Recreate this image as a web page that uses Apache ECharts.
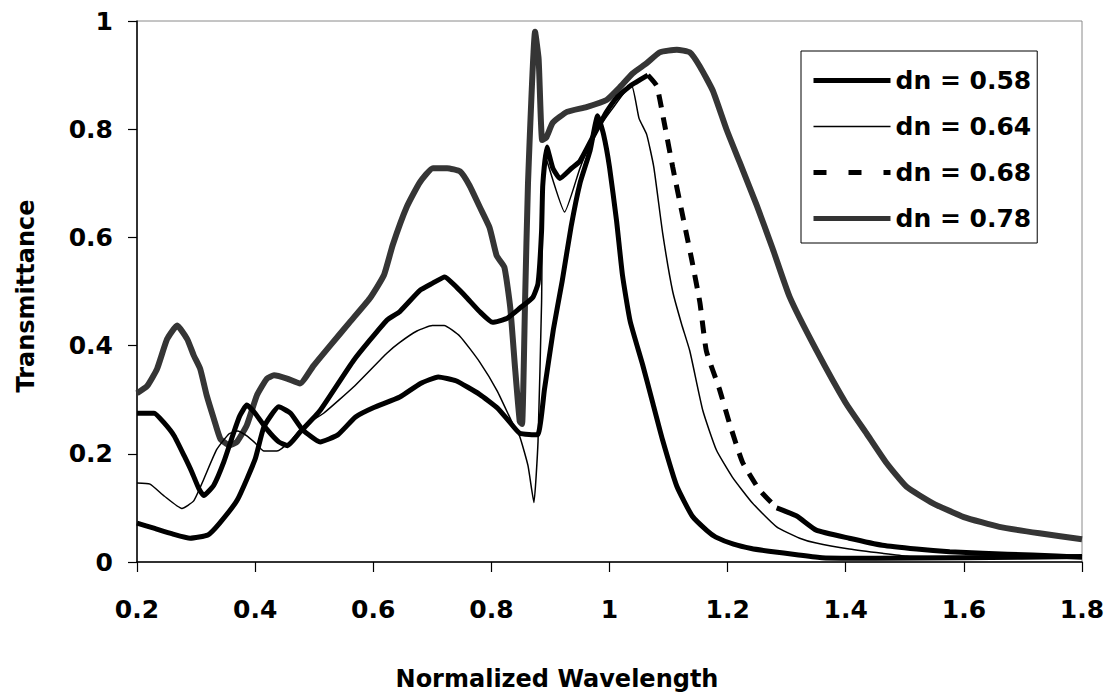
<!DOCTYPE html>
<html><head><meta charset="utf-8">
<script src="https://cdn.jsdelivr.net/npm/echarts@6/dist/echarts.min.js"></script>
<style>html,body{margin:0;padding:0;background:#fff}#c{width:1111px;height:698px}</style>
</head><body><div id="c"></div>
<script>
// ---- data ----
const xTickLabels = [0.2, 0.4, 0.6, 0.8, 1, 1.2, 1.4, 1.6, 1.8];
const yTickLabels = [0, 0.2, 0.4, 0.6, 0.8, 1];
const seriesNames = ['dn = 0.58', 'dn = 0.64', 'dn = 0.68', 'dn = 0.78'];

const x058 = [0.20,0.23,0.26,0.29,0.32,0.34,0.37,0.40,0.415,0.44,0.46,0.48,0.51,0.54,0.57,0.60,0.645,0.68,0.71,0.74,0.78,0.81,0.83,0.848,0.878,0.89,0.905,0.92,0.935,0.95,0.967,0.98,0.99,1.0,1.012,1.022,1.035,1.056,1.073,1.09,1.114,1.14,1.165,1.18,1.21,1.24,1.27,1.32,1.36,1.45,1.6,1.8];
const y058 = [0.072,0.062,0.052,0.044,0.05,0.072,0.115,0.19,0.25,0.287,0.275,0.245,0.222,0.235,0.268,0.285,0.305,0.33,0.342,0.335,0.31,0.285,0.26,0.238,0.235,0.32,0.43,0.52,0.62,0.70,0.76,0.825,0.79,0.73,0.63,0.53,0.445,0.365,0.295,0.225,0.14,0.085,0.058,0.046,0.033,0.025,0.02,0.013,0.008,0.007,0.008,0.01];

const x064 = [0.20,0.222,0.246,0.276,0.296,0.313,0.335,0.356,0.37,0.386,0.40,0.415,0.437,0.459,0.482,0.516,0.567,0.623,0.645,0.674,0.70,0.72,0.747,0.78,0.81,0.836,0.848,0.862,0.872,0.879,0.885,0.89,0.924,0.95,0.972,1.005,1.037,1.05,1.063,1.075,1.09,1.107,1.122,1.136,1.158,1.181,1.208,1.242,1.283,1.322,1.35,1.406,1.462,1.503,1.6,1.8];
const y064 = [0.146,0.144,0.122,0.099,0.113,0.153,0.208,0.237,0.242,0.233,0.22,0.205,0.205,0.223,0.251,0.275,0.324,0.386,0.406,0.427,0.437,0.437,0.417,0.37,0.316,0.256,0.232,0.178,0.11,0.223,0.48,0.754,0.647,0.728,0.786,0.838,0.882,0.82,0.79,0.73,0.608,0.50,0.44,0.39,0.28,0.207,0.157,0.109,0.065,0.044,0.035,0.024,0.016,0.011,0.01,0.01];

const x068 = [0.20,0.229,0.246,0.263,0.28,0.293,0.305,0.313,0.33,0.347,0.364,0.374,0.386,0.40,0.42,0.44,0.455,0.476,0.51,0.567,0.623,0.645,0.679,0.70,0.721,0.741,0.758,0.78,0.802,0.826,0.848,0.87,0.879,0.885,0.887,0.894,0.904,0.916,0.936,0.95,0.972,0.995,1.012,1.035,1.065,1.08,1.093,1.107,1.122,1.139,1.153,1.164,1.186,1.203,1.225,1.254,1.283,1.317,1.35,1.406,1.462,1.52,1.576,1.632,1.716,1.8];
const y068 = [0.275,0.275,0.257,0.233,0.196,0.166,0.135,0.123,0.142,0.185,0.24,0.27,0.29,0.275,0.245,0.222,0.215,0.24,0.28,0.373,0.447,0.463,0.502,0.515,0.527,0.508,0.489,0.463,0.443,0.45,0.469,0.489,0.515,0.612,0.696,0.767,0.728,0.709,0.728,0.741,0.786,0.832,0.858,0.88,0.90,0.88,0.81,0.73,0.65,0.56,0.48,0.39,0.32,0.257,0.185,0.133,0.10,0.085,0.059,0.044,0.031,0.024,0.019,0.016,0.013,0.009];

const x078 = [0.20,0.217,0.234,0.251,0.268,0.285,0.296,0.307,0.318,0.33,0.341,0.356,0.369,0.386,0.403,0.42,0.432,0.454,0.476,0.499,0.527,0.56,0.594,0.618,0.633,0.657,0.679,0.701,0.725,0.747,0.763,0.78,0.797,0.809,0.822,0.832,0.84,0.848,0.852,0.857,0.862,0.874,0.88,0.886,0.893,0.904,0.928,0.961,0.995,1.017,1.039,1.063,1.085,1.114,1.136,1.153,1.175,1.198,1.22,1.249,1.276,1.305,1.35,1.4,1.435,1.469,1.503,1.547,1.6,1.66,1.728,1.8];
const y078 = [0.312,0.325,0.357,0.412,0.437,0.412,0.382,0.357,0.308,0.265,0.228,0.216,0.222,0.253,0.308,0.339,0.345,0.339,0.33,0.363,0.40,0.443,0.487,0.53,0.586,0.657,0.702,0.728,0.728,0.722,0.696,0.657,0.618,0.566,0.545,0.47,0.36,0.26,0.255,0.48,0.70,0.98,0.93,0.78,0.785,0.812,0.832,0.841,0.854,0.877,0.903,0.922,0.942,0.947,0.942,0.916,0.871,0.80,0.74,0.66,0.58,0.49,0.392,0.294,0.238,0.183,0.139,0.109,0.083,0.065,0.053,0.042];

// range of the dn = 0.68 curve that shows visible dashes
const dashFrom = 1.065, dashTo = 1.283;

// ---- build ----
function pts(xs, ys) { return xs.map((x, i) => [x, ys[i]]); }
const d068 = pts(x068, y068);
const d068a = d068.filter(p => p[0] <= dashFrom);
const d068b = d068.filter(p => p[0] >= dashFrom && p[0] <= dashTo);
const d068c = d068.filter(p => p[0] >= dashTo);

const FONT = '"DejaVu Sans", "Liberation Sans", Arial, sans-serif';
const chart = echarts.init(document.getElementById('c'), null, { renderer: 'svg' });

const base = { type: 'line', showSymbol: false, symbol: 'none', smooth: 0.15,
  animation: false, silent: true };
const noSym = { opacity: 0 };

chart.setOption({
  animation: false,
  backgroundColor: '#fff',
  grid: { left: 137, right: 29, top: 21, bottom: 136, show: true, borderColor: '#8a8a8a', borderWidth: 1 },
  xAxis: {
    type: 'value', min: 0.2, max: 1.8, interval: 0.2,
    axisLine: { show: true, lineStyle: { color: '#000', width: 1.5 } },
    axisTick: { show: true, inside: false, length: 10, lineStyle: { color: '#000', width: 1.2 } },
    splitLine: { show: false },
    axisLabel: { margin: 35, color: '#000', fontSize: 25, fontWeight: 'bold', fontFamily: FONT,
      formatter: v => String(+v.toFixed(1)) }
  },
  yAxis: {
    type: 'value', min: 0, max: 1, interval: 0.2,
    axisLine: { show: true, lineStyle: { color: '#000', width: 1.5 } },
    axisTick: { show: true, inside: false, length: 9, lineStyle: { color: '#000', width: 1.2 } },
    splitLine: { show: false },
    axisLabel: { margin: 24, color: '#000', fontSize: 25, fontWeight: 'bold', fontFamily: FONT,
      formatter: v => String(+v.toFixed(1)) }
  },
  legend: {
    orient: 'vertical', left: 801, top: 51,
    padding: [17, 6, 12, 10],
    itemWidth: 77, itemHeight: 28, itemGap: 21,
    backgroundColor: '#fff', borderColor: '#000', borderWidth: 1,
    selectedMode: false,
    textStyle: { fontSize: 25, fontWeight: 'bold', color: '#000', fontFamily: FONT },
    data: [
      { name: seriesNames[0], itemStyle: noSym, lineStyle: { width: 5, color: '#000', type: 'solid' } },
      { name: seriesNames[1], itemStyle: noSym, lineStyle: { width: 1.5, color: '#000', type: 'solid' } },
      { name: seriesNames[2], itemStyle: noSym, lineStyle: { width: 5, color: '#000', type: [13, 22] } },
      { name: seriesNames[3], itemStyle: noSym, lineStyle: { width: 5, color: '#333', type: 'solid' } }
    ]
  },
  graphic: [
    { type: 'text', x: 557, y: 679, style: { text: 'Normalized Wavelength', fill: '#000',
        font: 'bold 24px ' + FONT, textAlign: 'center', textVerticalAlign: 'middle' } },
    { type: 'text', x: 26, y: 296, rotation: Math.PI / 2, style: { text: 'Transmittance', fill: '#000',
        font: 'bold 24px ' + FONT, textAlign: 'center', textVerticalAlign: 'middle' } }
  ],
  series: [
    Object.assign({}, base, { name: seriesNames[3], data: pts(x078, y078), z: 2,
      lineStyle: { color: '#353535', width: 6, join: 'round' } }),
    Object.assign({}, base, { name: seriesNames[0], data: pts(x058, y058), z: 3,
      lineStyle: { color: '#000', width: 5, join: 'round' } }),
    Object.assign({}, base, { name: seriesNames[1], data: pts(x064, y064), z: 4,
      lineStyle: { color: '#000', width: 1.5, join: 'round' } }),
    Object.assign({}, base, { name: seriesNames[2] + ' (a)', data: d068a, z: 3,
      lineStyle: { color: '#000', width: 5, join: 'round' } }),
    Object.assign({}, base, { name: seriesNames[2], data: d068b, z: 3,
      lineStyle: { color: '#000', width: 5, type: [13, 10] } }),
    Object.assign({}, base, { name: seriesNames[2] + ' (c)', data: d068c, z: 3,
      lineStyle: { color: '#000', width: 5, join: 'round' } })
  ]
});
</script>
</body></html>
